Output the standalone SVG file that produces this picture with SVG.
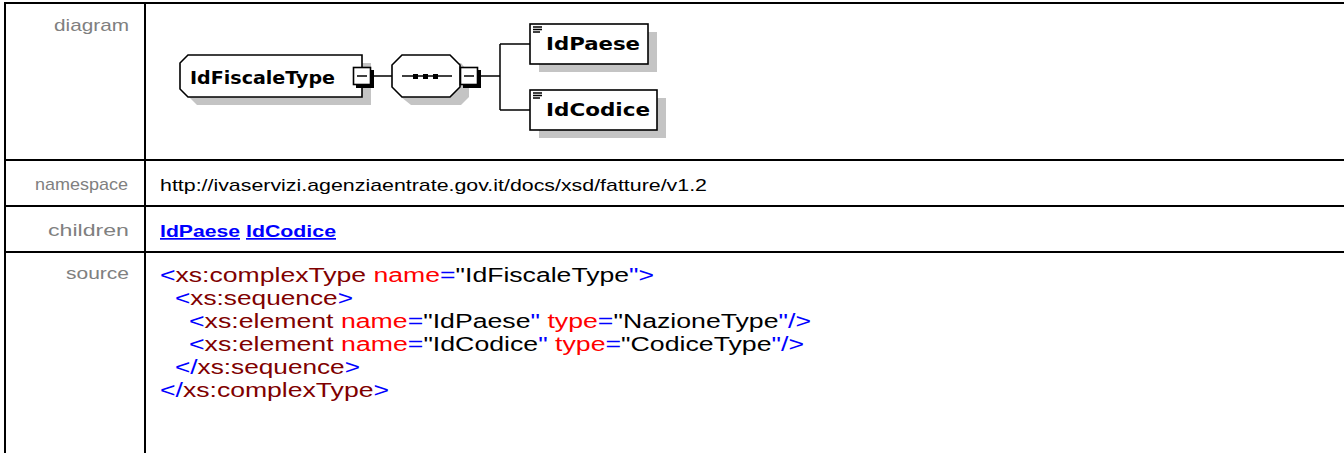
<svg xmlns="http://www.w3.org/2000/svg" width="1344" height="453" viewBox="0 0 1344 453">
<style>
.grid{stroke:#000;stroke-width:2;fill:none}
.lbl{font-family:"Liberation Sans",Arial,sans-serif;font-size:17px;fill:#808080}
.val{font-family:"Liberation Sans",Arial,sans-serif;font-size:17px;fill:#000}
.lnk{font-family:"Liberation Sans",Arial,sans-serif;font-size:17px;font-weight:bold;fill:#0000ff;text-decoration:underline}
.src{font-family:"Liberation Sans",Arial,sans-serif;font-size:20px;fill:#000}
.b{fill:#0000ff}.t{fill:#800000}.a{fill:#ff0000}.k{fill:#000}
.shadow{fill:#c4c4c4;stroke:none}
.box{fill:#fff;stroke:#000;stroke-width:1.6}
.name{font-family:"DejaVu Sans",Verdana,sans-serif;font-size:18px;font-weight:bold;fill:#000}
.conn{stroke:#000;stroke-width:1.5;fill:none}
</style>
<rect x="0" y="0" width="1344" height="453" fill="#fff"/>
<g id="table">
<path class="grid" d="M4,3H1344 M5,3V453 M145,3V453 M5,160H1344 M5,206H1344 M5,252H1344"/>
</g>
<g id="labels">
<text class="lbl" x="54" y="31" textLength="75" lengthAdjust="spacingAndGlyphs">diagram</text>
<text class="lbl" x="35" y="190" textLength="93" lengthAdjust="spacingAndGlyphs">namespace</text>
<text class="lbl" x="48" y="236" textLength="81" lengthAdjust="spacingAndGlyphs">children</text>
<text class="lbl" x="66" y="279" textLength="63" lengthAdjust="spacingAndGlyphs">source</text>
</g>
<g id="values">
<text class="val" x="160" y="191" textLength="547" lengthAdjust="spacingAndGlyphs">http://ivaservizi.agenziaentrate.gov.it/docs/xsd/fatture/v1.2</text>
<text class="lnk" x="160" y="237" textLength="80" lengthAdjust="spacingAndGlyphs">IdPaese</text>
<text class="lnk" x="246" y="237" textLength="90" lengthAdjust="spacingAndGlyphs">IdCodice</text>
</g>
<g id="source">
<text class="src" x="160" y="282" textLength="494" lengthAdjust="spacingAndGlyphs"><tspan class="b">&lt;</tspan><tspan class="t">xs:complexType</tspan><tspan class="a"> name</tspan><tspan class="b">=</tspan><tspan class="k">"IdFiscaleType</tspan><tspan class="b">"&gt;</tspan></text>
<text class="src" x="175" y="305" textLength="178" lengthAdjust="spacingAndGlyphs"><tspan class="b">&lt;</tspan><tspan class="t">xs:sequence</tspan><tspan class="b">&gt;</tspan></text>
<text class="src" x="189" y="328" textLength="622" lengthAdjust="spacingAndGlyphs"><tspan class="b">&lt;</tspan><tspan class="t">xs:element</tspan><tspan class="a"> name</tspan><tspan class="b">=</tspan><tspan class="k">"IdPaese</tspan><tspan class="b">"</tspan><tspan class="a"> type</tspan><tspan class="b">=</tspan><tspan class="k">"NazioneType</tspan><tspan class="b">"/&gt;</tspan></text>
<text class="src" x="189" y="351" textLength="615" lengthAdjust="spacingAndGlyphs"><tspan class="b">&lt;</tspan><tspan class="t">xs:element</tspan><tspan class="a"> name</tspan><tspan class="b">=</tspan><tspan class="k">"IdCodice</tspan><tspan class="b">"</tspan><tspan class="a"> type</tspan><tspan class="b">=</tspan><tspan class="k">"CodiceType</tspan><tspan class="b">"/&gt;</tspan></text>
<text class="src" x="175" y="374" textLength="185" lengthAdjust="spacingAndGlyphs"><tspan class="b">&lt;/</tspan><tspan class="t">xs:sequence</tspan><tspan class="b">&gt;</tspan></text>
<text class="src" x="160" y="397" textLength="229" lengthAdjust="spacingAndGlyphs"><tspan class="b">&lt;/</tspan><tspan class="t">xs:complexType</tspan><tspan class="b">&gt;</tspan></text>
</g>
<g id="connectors">
<path class="conn" d="M373,76H392 M481,76H500 M500,44V110 M500,44H530 M500,110H530"/>
</g>
<g id="node-IdFiscaleType">
<path class="shadow" d="M197,63H371V105H197L189,97V71Z"/>
<path class="box" d="M188,55H362V97H188L180,89V63Z"/>
<text class="name" x="190" y="84" textLength="145" lengthAdjust="spacingAndGlyphs">IdFiscaleType</text>
<rect x="356" y="70" width="18" height="18" fill="#000"/>
<rect x="353.5" y="67.5" width="17" height="17" class="box"/>
<path class="conn" d="M357,76H367"/>
</g>
<g id="node-sequence">
<path class="shadow" d="M411,63H461L469,73V97L461,105H411L401,97V73Z"/>
<path class="box" d="M402,55H450L460,65V87L450,97H402L392,87V65Z"/>
<path class="conn" d="M402,76H452"/>
<rect x="413" y="74" width="5" height="5" fill="#000"/>
<rect x="423" y="74" width="5" height="5" fill="#000"/>
<rect x="433" y="74" width="5" height="5" fill="#000"/>
<rect x="463" y="70" width="18" height="18" fill="#000"/>
<rect x="460.5" y="67.5" width="17" height="17" class="box"/>
<path class="conn" d="M464,76H474"/>
</g>
<g id="node-IdPaese">
<rect class="shadow" x="539" y="32" width="118" height="40"/>
<rect class="box" x="530" y="24" width="118" height="40"/>
<path class="conn" d="M533,27H542 M533,29.5H542 M533,32H540"/>
<text class="name" x="546" y="50" textLength="94" lengthAdjust="spacingAndGlyphs">IdPaese</text>
</g>
<g id="node-IdCodice">
<rect class="shadow" x="539" y="98" width="127" height="40"/>
<rect class="box" x="530" y="90" width="127" height="40"/>
<path class="conn" d="M533,93H542 M533,95.5H542 M533,98H540"/>
<text class="name" x="546" y="116" textLength="104" lengthAdjust="spacingAndGlyphs">IdCodice</text>
</g>
</svg>
